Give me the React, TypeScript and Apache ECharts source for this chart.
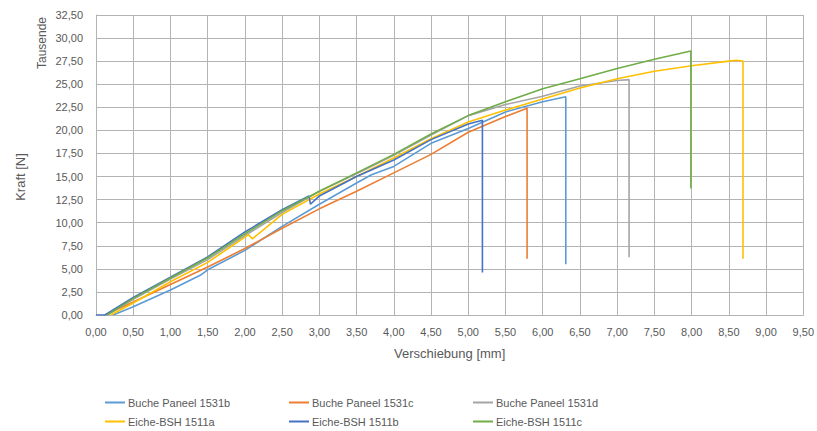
import React, { useEffect, useRef } from "react";
import * as echarts from "echarts";

const seriesNames = [
  "Buche Paneel 1531b",
  "Buche Paneel 1531c",
  "Buche Paneel 1531d",
  "Eiche-BSH 1511a",
  "Eiche-BSH 1511b",
  "Eiche-BSH 1511c",
];
const seriesColors = ["#5B9BD5", "#ED7D31", "#A5A5A5", "#FFC000", "#4472C4", "#70AD47"];

// Verschiebung [mm]
const x1531b = [0.23, 0.5, 1.0, 1.4, 1.5, 2.0, 2.5, 3.0, 3.5, 3.7, 4.0, 4.5, 5.0, 5.5, 6.0, 6.31, 6.31];
const x1531c = [0.12, 0.5, 1.0, 1.5, 2.0, 2.5, 3.0, 3.5, 4.0, 4.5, 5.0, 5.5, 5.79, 5.79];
const x1531d = [0.15, 0.5, 1.0, 1.5, 2.0, 2.5, 3.0, 3.5, 4.0, 4.5, 5.0, 5.5, 6.0, 6.5, 7.0, 7.16, 7.16];
const x1511a = [0.2, 0.5, 1.0, 1.5, 2.05, 2.1, 2.5, 3.0, 3.5, 4.0, 4.5, 5.0, 5.5, 6.0, 6.5, 7.0, 7.5, 8.0, 8.5, 8.6, 8.69, 8.69];
const x1511b = [0.0, 0.12, 0.5, 1.0, 1.5, 2.0, 2.5, 2.86, 2.88, 3.0, 3.5, 4.0, 4.5, 5.0, 5.19, 5.19];
const x1511c = [0.15, 0.5, 1.0, 1.5, 2.0, 2.5, 3.0, 3.5, 4.0, 4.5, 5.0, 5.5, 6.0, 6.5, 7.0, 7.5, 7.99, 7.99];

// Kraft [N] in Tausende
const y1531b = [0, 0.9, 2.7, 4.3, 4.9, 7.0, 9.6, 12.0, 14.3, 15.2, 16.1, 18.6, 20.2, 22.0, 23.1, 23.65, 5.5];
const y1531c = [0, 1.4, 3.3, 5.2, 7.2, 9.4, 11.5, 13.4, 15.4, 17.4, 19.8, 21.5, 22.4, 6.1];
const y1531d = [0, 1.7, 3.9, 6.0, 8.6, 11.1, 13.4, 15.3, 17.3, 19.5, 21.6, 22.8, 23.7, 24.8, 25.4, 25.5, 6.25];
const y1511a = [0, 1.3, 3.6, 5.7, 8.7, 8.25, 10.9, 13.1, 15.0, 17.0, 19.1, 20.9, 22.2, 23.4, 24.6, 25.6, 26.4, 27.0, 27.5, 27.6, 27.5, 6.1];
const y1511b = [0, 0, 1.9, 4.1, 6.3, 9.0, 11.4, 12.9, 12.0, 12.9, 15.0, 16.8, 19.0, 20.7, 21.1, 4.6];
const y1511c = [0, 1.8, 4.0, 6.2, 8.8, 11.3, 13.4, 15.4, 17.4, 19.6, 21.6, 23.1, 24.5, 25.6, 26.7, 27.7, 28.6, 13.7];

const xs = [x1531b, x1531c, x1531d, x1511a, x1511b, x1511c];
const ys = [y1531b, y1531c, y1531d, y1511a, y1511b, y1511c];

const FONT = "Liberation Sans";
const TXT = "#595959";
const GRID = "#B3B3B3";

const fmt = (v: number) => v.toFixed(2).replace(".", ",");

export default function App() {
  const ref = useRef<HTMLDivElement>(null);
  useEffect(() => {
    if (!ref.current) return;
    const chart = echarts.init(ref.current, null, { renderer: "svg" });
    const legendLeft = [100, 284, 468];
    const legendTop = [392, 411];
    const legends = seriesNames.map((n, i) => ({
      data: [n],
      left: legendLeft[i % 3],
      top: legendTop[Math.floor(i / 3)],
      icon: "rect",
      itemWidth: 20,
      itemHeight: 2,
      itemGap: 5,
      selectedMode: false,
      textStyle: { fontFamily: FONT, fontSize: 11, color: TXT, padding: [0, 0, 0, -2] },
    }));
    chart.setOption({
      animation: false,
      backgroundColor: "#ffffff",
      grid: { left: 96, right: 12, top: 15, bottom: 116, containLabel: false },
      xAxis: {
        type: "value",
        min: 0,
        max: 9.5,
        interval: 0.5,
        name: "Verschiebung [mm]",
        nameLocation: "middle",
        nameGap: 32,
        nameTextStyle: { fontFamily: FONT, fontSize: 13, color: TXT },
        axisLine: { show: true, lineStyle: { color: GRID, width: 1 } },
        axisTick: { show: false },
        axisLabel: { fontFamily: FONT, fontSize: 11, color: TXT, margin: 11, formatter: fmt },
        splitLine: { show: true, lineStyle: { color: GRID, width: 1 } },
      },
      yAxis: {
        type: "value",
        min: 0,
        max: 32.5,
        interval: 2.5,
        axisLine: { show: true, lineStyle: { color: GRID, width: 1 } },
        axisTick: { show: false },
        axisLabel: { fontFamily: FONT, fontSize: 11, color: TXT, margin: 13, formatter: fmt },
        splitLine: { show: true, lineStyle: { color: GRID, width: 1 } },
      },
      legend: legends,
      graphic: [
        {
          type: "text",
          x: 20,
          y: 177,
          rotation: Math.PI / 2,
          style: {
            text: "Kraft [N]",
            fontFamily: FONT,
            fontSize: 13,
            fill: TXT,
            align: "center",
            verticalAlign: "middle",
          },
        },
        {
          type: "text",
          x: 42,
          y: 43,
          rotation: Math.PI / 2,
          style: {
            text: "Tausende",
            fontFamily: FONT,
            fontSize: 12,
            fill: TXT,
            align: "center",
            verticalAlign: "middle",
          },
        },
      ],
      series: seriesNames.map((n, i) => ({
        name: n,
        type: "line",
        showSymbol: false,
        symbol: "none",
        color: seriesColors[i],
        lineStyle: { width: 1.6, color: seriesColors[i] },
        data: xs[i].map((x, j) => [x, ys[i][j]]),
      })),
    });
    return () => chart.dispose();
  }, []);
  return (
    <div
      ref={ref}
      style={{ position: "absolute", left: 0, top: 0, width: 817, height: 431 }}
    />
  );
}
